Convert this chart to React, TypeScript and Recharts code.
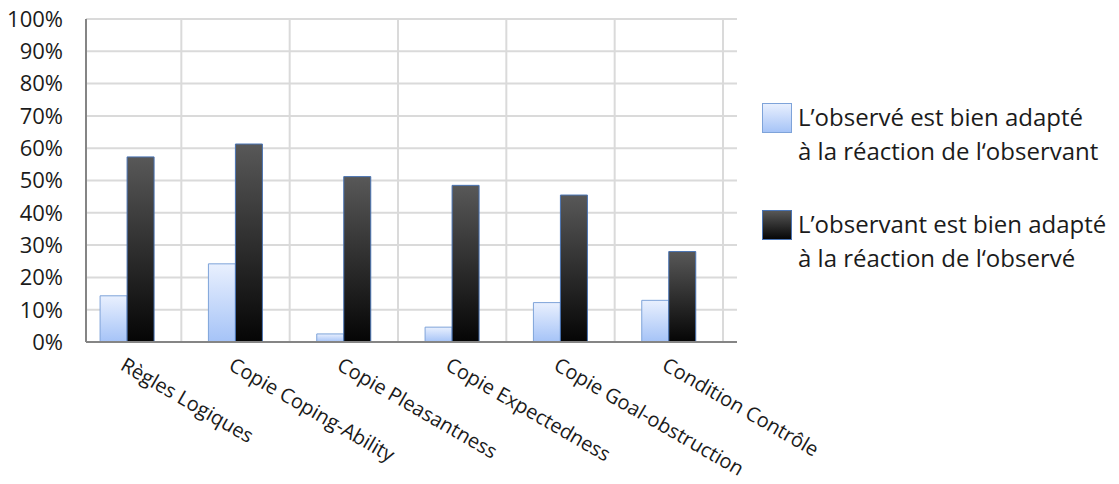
import { BarChart, Bar, XAxis, YAxis, CartesianGrid, Legend, ReferenceLine } from "recharts";

const categories = [
  "Règles Logiques",
  "Copie Coping-Ability",
  "Copie Pleasantness",
  "Copie Expectedness",
  "Copie Goal-obstruction",
  "Condition Contrôle",
];

// % of trials
const observedAdapted = [14.3, 24.2, 2.5, 4.6, 12.2, 12.9];
const observerAdapted = [57.3, 61.3, 51.2, 48.5, 45.5, 28.0];

const yTicks = [0, 10, 20, 30, 40, 50, 60, 70, 80, 90, 100];

const legendLabels = [
  ["L’observé est bien adapté", "à la réaction de l‘observant"],
  ["L’observant est bien adapté", "à la réaction de l‘observé"],
];

const data = categories.map((name, i) => ({
  name,
  observed: observedAdapted[i],
  observer: observerAdapted[i],
}));

const FONT = "'Open Sans', sans-serif";
const TEXT = "#1b1b1b";
const GRID = "#dadada";

const XTick = ({ x, y, payload }: any) => (
  <text
    x={x - 8}
    y={y + 27}
    transform={`rotate(30, ${x - 8}, ${y + 27})`}
    textAnchor="start"
    fontFamily={FONT}
    fontSize={20}
    fill={TEXT}
  >
    {payload.value}
  </text>
);

const swatches = ["url(#lightFill)", "url(#darkFill)"];
const swatchBorder = ["#7ea3d9", "#4a74b4"];

const LegendBox = () => (
  <div style={{ fontFamily: FONT, fontSize: 24, color: TEXT }}>
    {legendLabels.map((lines, i) => (
      <div key={i} style={{ display: "flex", alignItems: "flex-start", marginBottom: i === 0 ? 39 : 0 }}>
        <svg width={30} height={30} style={{ marginTop: 3, marginRight: 6, flex: "none" }}>
          <rect x={0.5} y={0.5} width={29} height={29} fill={swatches[i]} stroke={swatchBorder[i]} />
        </svg>
        <div style={{ lineHeight: "34px", whiteSpace: "nowrap" }}>
          {lines.map((l) => (
            <div key={l}>{l}</div>
          ))}
        </div>
      </div>
    ))}
  </div>
);

export default function App() {
  return (
    <div style={{ position: "absolute", left: 0, top: 0, width: 1119, height: 484, background: "#fff" }}>
      <BarChart
        width={1119}
        height={484}
        data={data}
        margin={{ top: 19, right: 382, bottom: 0, left: 0 }}
        barCategoryGap="25%"
        barGap={0}
      >
        <defs>
          <linearGradient id="lightFill" x1="0" y1="0" x2="0" y2="1">
            <stop offset="0%" stopColor="#e9f0fe" />
            <stop offset="100%" stopColor="#a5c3f7" />
          </linearGradient>
          <linearGradient id="darkFill" x1="0" y1="0" x2="0" y2="1">
            <stop offset="0%" stopColor="#585858" />
            <stop offset="100%" stopColor="#050505" />
          </linearGradient>
        </defs>
        <CartesianGrid stroke={GRID} strokeWidth={2} vertical={false} />
        {/* vertical grid lines between the category groups */}
        {categories.map((c) => (
          <ReferenceLine key={c} x={c} position="end" stroke={GRID} strokeWidth={2} />
        ))}
        <XAxis
          dataKey="name"
          height={142}
          padding={{ left: -13, right: 14 }}
          axisLine={{ stroke: "#858585", strokeWidth: 2 }}
          tickLine={false}
          tickSize={0}
          tickMargin={0}
          interval={0}
          tick={<XTick />}
        />
        <YAxis
          width={86}
          domain={[0, 100]}
          ticks={yTicks}
          interval={0}
          tickFormatter={(v: number) => `${v}%`}
          axisLine={{ stroke: "#858585", strokeWidth: 2 }}
          tickLine={false}
          tickSize={8}
          tickMargin={15}
          tick={{ fontFamily: FONT, fontSize: 22, fill: TEXT }}
        />
        <Legend
          layout="vertical"
          align="center"
          verticalAlign="middle"
          content={<LegendBox />}
          wrapperStyle={{ left: 762, top: 100, width: 350 }}
        />
        <Bar dataKey="observed" fill="url(#lightFill)" stroke="#7ea3d9" strokeWidth={1} isAnimationActive={false} />
        <Bar dataKey="observer" fill="url(#darkFill)" stroke="#4a74b4" strokeWidth={1} isAnimationActive={false} />
      </BarChart>
    </div>
  );
}
